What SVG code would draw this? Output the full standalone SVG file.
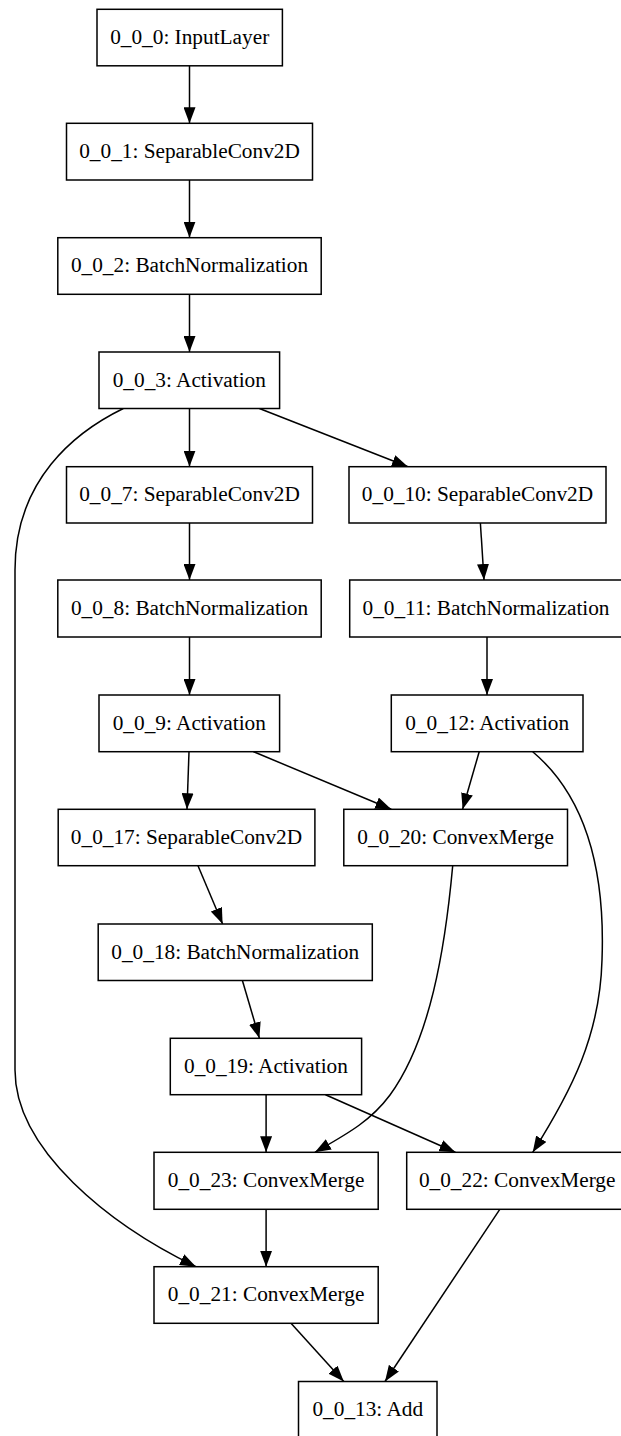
<svg xmlns="http://www.w3.org/2000/svg" width="621" height="1436" viewBox="0 0 621 1436">
<style>
.n rect{fill:#fff;stroke:#000;stroke-width:1.5}
.n text{font-family:"Liberation Serif","Times New Roman",serif;font-size:21.3px;fill:#000;text-anchor:middle}
.e path{fill:none;stroke:#000;stroke-width:1.5;marker-end:url(#ah)}
</style>
<defs>
<marker id="ah" viewBox="0 0 16 12" markerWidth="16" markerHeight="12" refX="16" refY="6" orient="auto" markerUnits="userSpaceOnUse">
<path d="M0,0 L16,6 L0,12 z" fill="#000"/>
</marker>
</defs>
<rect width="621" height="1436" fill="#fff"/>
<g id="edges" class="e">
<path d="M189.5,65.8 L189.5,123.3"/>
<path d="M189.5,180 L189.5,237.7"/>
<path d="M189.5,294.3 L189.5,352"/>
<path d="M189.5,408.5 L189.5,466.7"/>
<path d="M259.4,408.5 L408,466.7"/>
<path d="M123.3,408.5 C75,432 15,480 15,570 L15,1070 C15,1150 110,1225 196,1266.7"/>
<path d="M189.5,523 L189.5,580"/>
<path d="M480.4,523 L484,580"/>
<path d="M189.5,637 L189.5,695"/>
<path d="M487,637 L487,695"/>
<path d="M189,751.7 L187,809.3"/>
<path d="M253.5,751.7 L391.3,809.3"/>
<path d="M479.2,751.7 L462.6,809.3"/>
<path d="M532.7,751.7 C590,800 605,880 602,960 C600,1035 572,1090 532.7,1152.3"/>
<path d="M452.7,865.7 C445,950 430,1040 390,1095 C370,1122 345,1135 314.9,1152.3"/>
<path d="M198,865.7 L222.6,924"/>
<path d="M242.4,980.5 L259.4,1038.3"/>
<path d="M266.1,1094.7 L266.1,1152.3"/>
<path d="M325.5,1094.7 L455.4,1152.3"/>
<path d="M266.1,1209.3 L266.1,1266.7"/>
<path d="M499.8,1209.3 L385,1381.5"/>
<path d="M291,1323.3 L343.8,1381.5"/>
</g>
<g id="n0" class="n"><rect x="97" y="9.3" width="185.4" height="56.5"/><text x="189.7" y="43.5">0_0_0: InputLayer</text></g>
<g id="n1" class="n"><rect x="66.5" y="123.3" width="246" height="56.7"/><text x="189.5" y="158">0_0_1: SeparableConv2D</text></g>
<g id="n2" class="n"><rect x="57.8" y="237.7" width="263.4" height="56.6"/><text x="189.5" y="272.3">0_0_2: BatchNormalization</text></g>
<g id="n3" class="n"><rect x="99" y="352" width="180.6" height="56.5"/><text x="189.3" y="386.5">0_0_3: Activation</text></g>
<g id="n7" class="n"><rect x="66.5" y="466.7" width="246" height="56.3"/><text x="189.5" y="501">0_0_7: SeparableConv2D</text></g>
<g id="n10" class="n"><rect x="349" y="466.7" width="257" height="56.3"/><text x="477.5" y="501">0_0_10: SeparableConv2D</text></g>
<g id="n8" class="n"><rect x="57.8" y="580" width="263.4" height="57"/><text x="189.5" y="614.5">0_0_8: BatchNormalization</text></g>
<g id="n11" class="n"><rect x="349.7" y="580" width="272.6" height="57"/><text x="486" y="614.5">0_0_11: BatchNormalization</text></g>
<g id="n9" class="n"><rect x="99" y="695" width="180.6" height="56.7"/><text x="189.3" y="729.5">0_0_9: Activation</text></g>
<g id="n12" class="n"><rect x="391.3" y="695" width="191.7" height="56.7"/><text x="487.2" y="729.5">0_0_12: Activation</text></g>
<g id="n17" class="n"><rect x="58.2" y="809.3" width="256.7" height="56.4"/><text x="186.5" y="843.8">0_0_17: SeparableConv2D</text></g>
<g id="n20" class="n"><rect x="343.8" y="809.3" width="223.7" height="56.4"/><text x="455.6" y="843.8">0_0_20: ConvexMerge</text></g>
<g id="n18" class="n"><rect x="98.2" y="924" width="274.1" height="56.5"/><text x="235.2" y="958.5">0_0_18: BatchNormalization</text></g>
<g id="n19" class="n"><rect x="170.3" y="1038.3" width="191.3" height="56.4"/><text x="266" y="1072.8">0_0_19: Activation</text></g>
<g id="n23" class="n"><rect x="154" y="1152.3" width="224.2" height="57"/><text x="266.1" y="1186.8">0_0_23: ConvexMerge</text></g>
<g id="n22" class="n"><rect x="406.7" y="1152.3" width="221" height="57"/><text x="517.2" y="1186.8">0_0_22: ConvexMerge</text></g>
<g id="n21" class="n"><rect x="154" y="1266.7" width="224.2" height="56.6"/><text x="266.1" y="1301.2">0_0_21: ConvexMerge</text></g>
<g id="n13" class="n"><rect x="298.5" y="1381.5" width="138.5" height="56.5"/><text x="367.8" y="1416">0_0_13: Add</text></g>
</svg>
